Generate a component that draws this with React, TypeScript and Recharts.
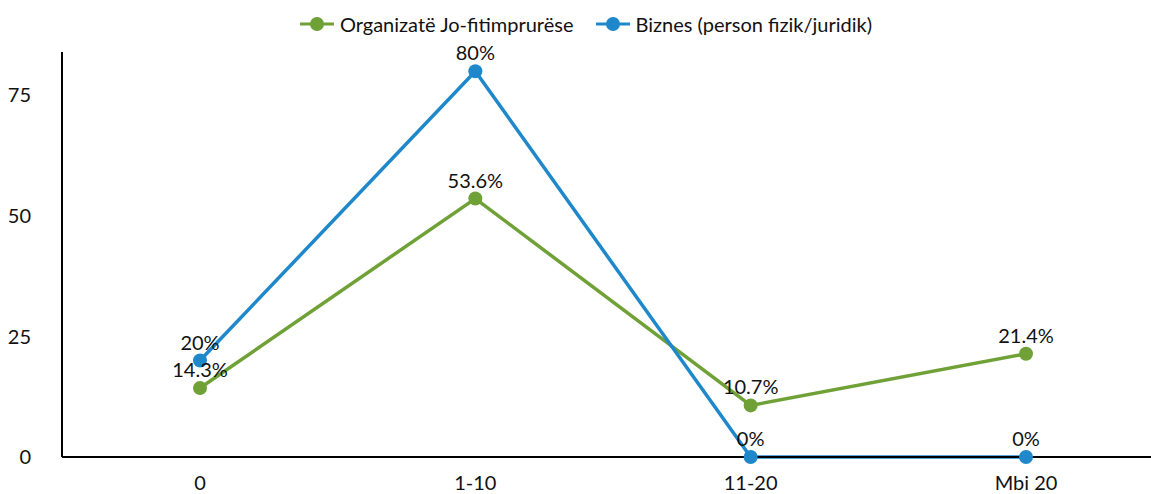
import React from 'react';
import { LineChart, Line, XAxis, YAxis, Legend, LabelList } from 'recharts';

const categories = ['0', '1-10', '11-20', 'Mbi 20'];
const jofitim = [14.3, 53.6, 10.7, 21.4];
const biznes = [20, 80, 0, 0];
const yTicks = [0, 25, 50, 75];

const GREEN = '#70a136';
const BLUE = '#1f88cb';
const FONT = 'Lato, "Noto Sans", sans-serif';
const TXT = '#111';

const data = categories.map((c, i) => ({ cat: c, jofitim: jofitim[i], biznes: biznes[i] }));

const series = [
  { key: 'jofitim', name: 'Organizatë Jo-fitimprurëse', color: GREEN },
  { key: 'biznes', name: 'Biznes (person fizik/juridik)', color: BLUE },
];

function LegendBox() {
  return (
    <div style={{ display: 'flex', justifyContent: 'center', gap: 22, fontFamily: FONT, fontSize: 20, color: TXT, paddingLeft: 8, paddingTop: 2 }}>
      {series.map((s) => (
        <div key={s.key} style={{ display: 'flex', alignItems: 'center', gap: 6 }}>
          <svg width={34} height={16}>
            <line x1={0} y1={8} x2={34} y2={8} stroke={s.color} strokeWidth={3} />
            <circle cx={17} cy={8} r={7} fill={s.color} />
          </svg>
          <span>{s.name}</span>
        </div>
      ))}
    </div>
  );
}

const fmt = (v: any) => `${v}%`;

export default function App() {
  return (
    <div style={{ position: 'absolute', left: 0, top: 0, width: 1151, height: 494, overflow: 'hidden', background: '#fff' }}>
      <LineChart width={1164} height={494} data={data} margin={{ top: 10, right: 0, bottom: 0, left: 0 }}>
        <Legend verticalAlign="top" height={42} content={() => <LegendBox />} />
        <XAxis
          dataKey="cat"
          padding={{ left: 138, right: 138 }}
          height={37}
          tickLine={false}
          tickSize={0}
          tickMargin={19}
          axisLine={{ stroke: '#000', strokeWidth: 2 }}
          tick={{ fill: TXT, fontSize: 20, fontFamily: FONT }}
        />
        <YAxis
          width={62}
          domain={[0, 84]}
          ticks={yTicks}
          tickLine={false}
          tickSize={0}
          tickMargin={31}
          axisLine={{ stroke: '#000', strokeWidth: 2 }}
          tick={{ fill: TXT, fontSize: 20, fontFamily: FONT }}
        />
        {series.map((s) => (
          <Line
            key={s.key}
            dataKey={s.key}
            name={s.name}
            type="linear"
            stroke={s.color}
            strokeWidth={3.5}
            dot={{ r: 7, fill: s.color, stroke: s.color, strokeWidth: 0 }}
            activeDot={false}
            isAnimationActive={false}
          >
            <LabelList dataKey={s.key} position="top" offset={11} formatter={fmt} fill={TXT} fontSize={20} fontFamily={FONT} />
          </Line>
        ))}
      </LineChart>
    </div>
  );
}
